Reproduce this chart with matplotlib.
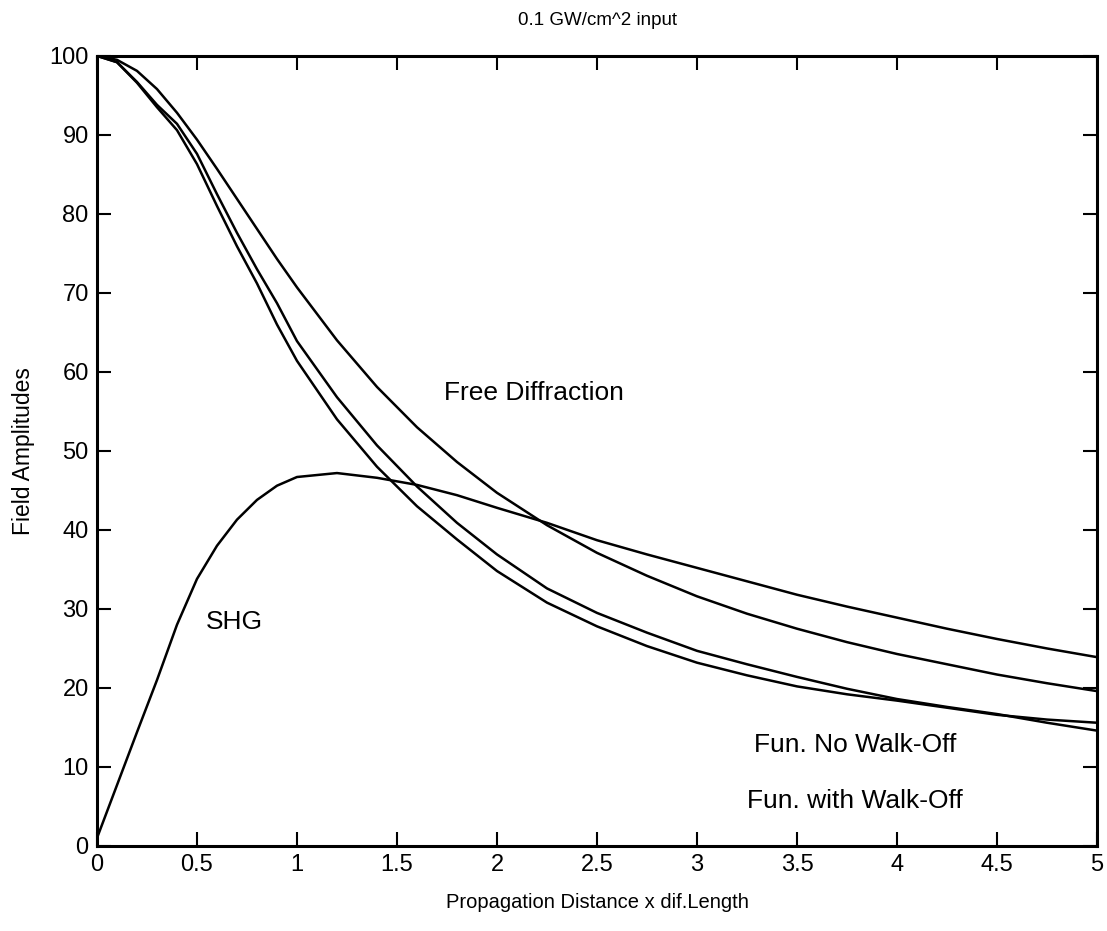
import matplotlib
matplotlib.use("Agg")
import matplotlib.pyplot as plt

plt.rcParams["font.family"] = ["Liberation Sans", "DejaVu Sans"]

# propagation distance (in diffraction lengths)
distance = [0.0, 0.1, 0.2, 0.3, 0.4, 0.5, 0.6, 0.7, 0.8, 0.9, 1.0, 1.2, 1.4,
            1.6, 1.8, 2.0, 2.25, 2.5, 2.75, 3.0, 3.25, 3.5, 3.75, 4.0, 4.25,
            4.5, 4.75, 5.0]

free_diffraction = [100, 99.5, 98.1, 95.8, 92.8, 89.4, 85.7, 81.9, 78.1, 74.3,
                    70.7, 64.0, 58.1, 53.0, 48.6, 44.7, 40.6, 37.1, 34.2, 31.6,
                    29.4, 27.5, 25.8, 24.3, 23.0, 21.7, 20.6, 19.6]

fun_no_walkoff = [100, 99.2, 96.7, 93.8, 91.4, 87.6, 82.5, 77.6, 73.0, 68.7,
                  63.9, 56.8, 50.7, 45.5, 40.9, 36.9, 32.6, 29.5, 27.0, 24.7,
                  23.0, 21.4, 19.9, 18.6, 17.6, 16.7, 15.6, 14.6]

fun_walkoff = [100, 99.2, 96.6, 93.5, 90.6, 86.3, 81.0, 75.9, 71.2, 66.0,
               61.4, 54.0, 48.0, 43.0, 38.8, 34.8, 30.8, 27.8, 25.3, 23.2,
               21.6, 20.2, 19.2, 18.4, 17.5, 16.6, 16.0, 15.6]

shg = [1.0, 7.7, 14.4, 21.0, 28.0, 33.8, 38.0, 41.3, 43.8, 45.6, 46.7, 47.2,
       46.6, 45.7, 44.4, 42.8, 40.9, 38.7, 36.9, 35.2, 33.5, 31.8, 30.3, 28.9,
       27.5, 26.2, 25.0, 23.9]

x_ticks = [0, 0.5, 1, 1.5, 2, 2.5, 3, 3.5, 4, 4.5, 5]
x_tick_labels = ["0", "0.5", "1", "1.5", "2", "2.5", "3", "3.5", "4", "4.5", "5"]
y_ticks = [0, 10, 20, 30, 40, 50, 60, 70, 80, 90, 100]

fig = plt.figure(figsize=(11.07, 9.31), dpi=100)
ax = fig.add_axes([0.0876, 0.0913, 0.9034, 0.8487])

for series in [free_diffraction, fun_no_walkoff, fun_walkoff, shg]:
    ax.plot(distance, series, color="black", linewidth=1.8)

ax.set_xlim(0, 5)
ax.set_ylim(0, 100)
ax.set_xticks(x_ticks)
ax.set_xticklabels(x_tick_labels, fontsize=17)
ax.set_yticks(y_ticks)

ax.tick_params(direction="in", length=10, width=1.5, top=True, right=True)
ax.tick_params(axis="y", labelsize=17, pad=6)
ax.tick_params(axis="x", pad=6)
for spine in ax.spines.values():
    spine.set_linewidth(2.2)

ax.text(1.735, 57.3, "Free Diffraction", fontsize=19, va="center")
ax.text(0.545, 28.4, "SHG", fontsize=19, va="center")
ax.text(3.285, 12.8, "Fun. No Walk-Off", fontsize=19, va="center")
ax.text(3.25, 5.7, "Fun. with Walk-Off", fontsize=19, va="center")

ax.set_title("0.1 GW/cm^2 input", fontsize=13.5, pad=22)
ax.set_xlabel("Propagation Distance x dif.Length", fontsize=14.5, labelpad=12)
ax.set_ylabel("Field Amplitudes", fontsize=16.5, labelpad=10)

plt.savefig("out.png", dpi=100)
plt.close()
